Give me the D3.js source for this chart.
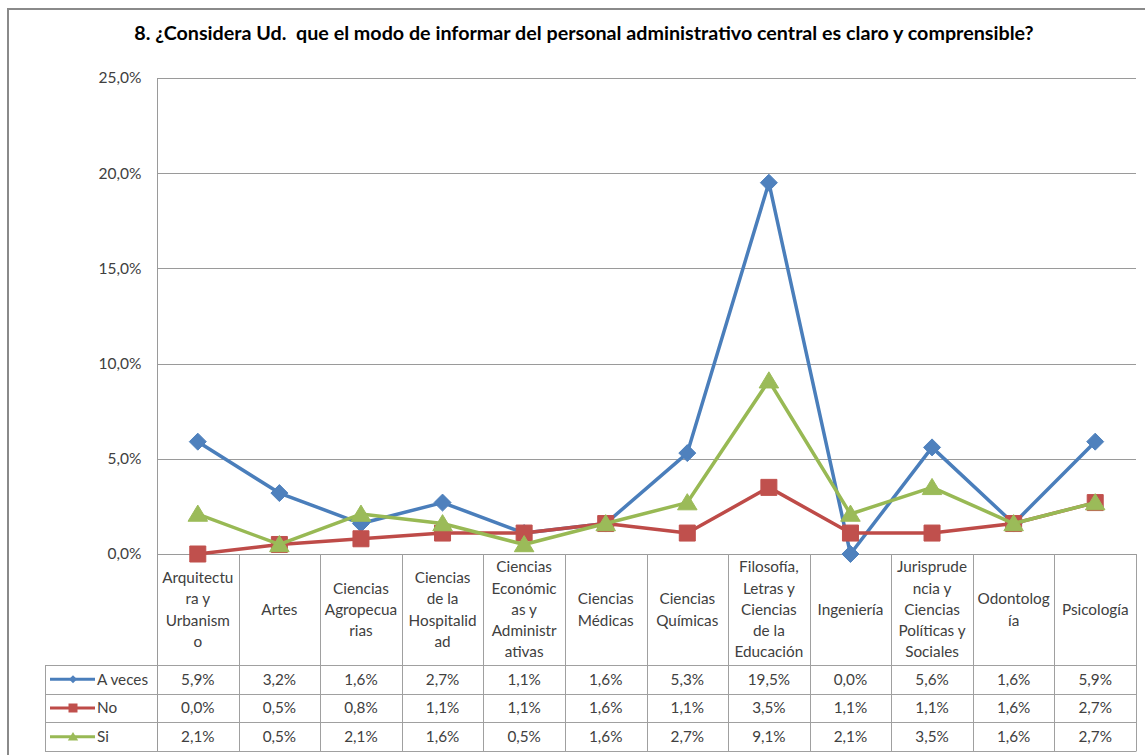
<!DOCTYPE html>
<html>
<head>
<meta charset="utf-8">
<script src="https://cdn.jsdelivr.net/npm/d3@7"></script>
<style>
  html, body { margin: 0; padding: 0; background: #fff; }
  svg { display: block; font-family: Lato, "Open Sans", sans-serif; }
</style>
</head>
<body>
<svg id="chart" width="1145" height="755"></svg>
<script>
// Question title
const title = "8. ¿Considera Ud.  que el modo de informar del personal administrativo central es claro y comprensible?";

// Faculties (categories) and their wrapped header lines
const categories = [
  "Arquitectura y Urbanismo", "Artes", "Ciencias Agropecuarias", "Ciencias de la Hospitalidad",
  "Ciencias Económicas y Administrativas", "Ciencias Médicas", "Ciencias Químicas",
  "Filosofía, Letras y Ciencias de la Educación", "Ingeniería",
  "Jurisprudencia y Ciencias Políticas y Sociales", "Odontología", "Psicología"
];
const categoryLines = [
  ["Arquitectu", "ra y", "Urbanism", "o"],
  ["Artes"],
  ["Ciencias", "Agropecua", "rias"],
  ["Ciencias", "de la", "Hospitalid", "ad"],
  ["Ciencias", "Económic", "as y", "Administr", "ativas"],
  ["Ciencias", "Médicas"],
  ["Ciencias", "Químicas"],
  ["Filosofía,", "Letras y", "Ciencias", "de la", "Educación"],
  ["Ingeniería"],
  ["Jurisprude", "ncia y", "Ciencias", "Políticas y", "Sociales"],
  ["Odontolog", "ía"],
  ["Psicología"]
];

// Series values (percent)
const seriesNames = ["A veces", "No", "Si"];
const aVeces = [5.9, 3.2, 1.6, 2.7, 1.1, 1.6, 5.3, 19.5, 0.0, 5.6, 1.6, 5.9];
const no     = [0.0, 0.5, 0.8, 1.1, 1.1, 1.6, 1.1, 3.5, 1.1, 1.1, 1.6, 2.7];
const si     = [2.1, 0.5, 2.1, 1.6, 0.5, 1.6, 2.7, 9.1, 2.1, 3.5, 1.6, 2.7];

// Y axis ticks (percent)
const yTicks = [0, 5, 10, 15, 20, 25];

const series = [
  { name: seriesNames[0], values: aVeces, line: "#4A7EBB", fill: "#4F81BD", marker: "diamond" },
  { name: seriesNames[1], values: no,     line: "#BE4B48", fill: "#C0504D", marker: "square" },
  { name: seriesNames[2], values: si,     line: "#98B954", fill: "#9BBB59", marker: "triangle" }
];

const locale = d3.formatLocale({ decimal: ",", thousands: ".", grouping: [3], currency: ["", "€"] });
const fmt1 = locale.format(".1f");
const pct = v => fmt1(v) + "%";

const svg = d3.select("#chart");

// Layout
const plotLeft = 157, plotRight = 1136, plotTop = 78, plotBottom = 554;
const tableLeft = 45, headerBottom = 665, tableBottom = 751;
const rowH = (tableBottom - headerBottom) / 3;

const x = d3.scaleBand().domain(categories).range([plotLeft, plotRight]).padding(0);
const y = d3.scaleLinear().domain([0, 25]).range([plotBottom, plotTop]);

// Outer chart border
svg.append("rect")
  .attr("x", 8).attr("y", 9).attr("width", 1160).attr("height", 780)
  .attr("fill", "none").attr("stroke", "#8a8a8a").attr("stroke-width", 2);

// Title, sized to span the header width
const titleText = svg.append("text")
  .attr("x", 584).attr("y", 40)
  .attr("text-anchor", "middle")
  .attr("font-size", 17.5).attr("font-weight", "bold")
  .attr("fill", "#000")
  .style("white-space", "pre")
  .text(title);
const tw = titleText.node().getComputedTextLength();
if (tw > 0) titleText.attr("font-size", 17.5 * 900 / tw);

// Gridlines
svg.append("g").selectAll("line").data(yTicks).join("line")
  .attr("x1", plotLeft).attr("x2", plotRight)
  .attr("y1", d => Math.round(y(d)) + 0.5).attr("y2", d => Math.round(y(d)) + 0.5)
  .attr("stroke", "#9a9a9a").attr("stroke-width", 1);

// Y axis
const yAxis = svg.append("g")
  .attr("transform", `translate(${plotLeft + 0.5},0)`)
  .call(d3.axisLeft(y).tickValues(yTicks).tickFormat(pct).tickSize(0).tickPadding(16));
yAxis.select(".domain").remove();
yAxis.selectAll("text")
  .attr("font-family", "Lato, 'Open Sans', sans-serif")
  .attr("font-size", 15.5).attr("fill", "#404040");

// Axis line down through the data table
svg.append("line")
  .attr("x1", plotLeft + 0.5).attr("x2", plotLeft + 0.5)
  .attr("y1", plotTop).attr("y2", tableBottom)
  .attr("stroke", "#9a9a9a");

// Data table grid
const tbl = svg.append("g").attr("stroke", "#a0a0a0").attr("stroke-width", 1);
categories.forEach(c => {
  const xr = Math.round(x(c) + x.bandwidth()) + 0.5;
  tbl.append("line").attr("x1", xr).attr("x2", xr).attr("y1", plotBottom).attr("y2", tableBottom);
});
[0, 1, 2, 3].forEach(i => {
  const yy = Math.round(headerBottom + i * rowH) + 0.5;
  tbl.append("line").attr("x1", tableLeft).attr("x2", plotRight + 0.5).attr("y1", yy).attr("y2", yy);
});
tbl.append("line").attr("x1", tableLeft + 0.5).attr("x2", tableLeft + 0.5)
  .attr("y1", headerBottom).attr("y2", tableBottom);

// Category headers
const lineH = 21.3;
const headerMid = (plotBottom + headerBottom) / 2;
const hdr = svg.append("g").attr("font-size", 15.3).attr("fill", "#404040").attr("text-anchor", "middle");
categories.forEach((c, i) => {
  const lines = categoryLines[i];
  const cx = x(c) + x.bandwidth() / 2;
  const t = hdr.append("text").attr("x", cx);
  lines.forEach((ln, j) => {
    t.append("tspan").attr("x", cx)
      .attr("y", headerMid + (j - (lines.length - 1) / 2) * lineH)
      .attr("dy", "0.35em").text(ln);
  });
});

// Marker shapes
function markerPath(type, s) {
  if (type === "diamond") return `M0,${-s}L${s},0L0,${s}L${-s},0Z`;
  if (type === "square") return `M${-s},${-s}H${s}V${s}H${-s}Z`;
  return `M0,${-s * 1.05}L${s * 1.15},${s * 0.85}L${-s * 1.15},${s * 0.85}Z`;
}
const markerSize = { diamond: 8.5, square: 8, triangle: 8.5 };
const keySize = { diamond: 4, square: 4.5, triangle: 4.5 };

// Lines and markers
const line = d3.line().x((d, i) => x(categories[i]) + x.bandwidth() / 2).y(d => y(d));
series.forEach(s => {
  const g = svg.append("g");
  g.append("path").datum(s.values)
    .attr("d", line)
    .attr("fill", "none").attr("stroke", s.line).attr("stroke-width", 3.5)
    .attr("stroke-linejoin", "round");
  g.selectAll("path.m").data(s.values).join("path").attr("class", "m")
    .attr("transform", (d, i) => `translate(${x(categories[i]) + x.bandwidth() / 2},${y(d)})`)
    .attr("d", markerPath(s.marker, markerSize[s.marker]))
    .attr("fill", s.fill).attr("stroke", s.fill).attr("stroke-width", 1);
});

// Table rows: legend keys, names and values
series.forEach((s, r) => {
  const cy = headerBottom + r * rowH + rowH / 2;
  const g = svg.append("g");
  g.append("line").attr("x1", 50).attr("x2", 95).attr("y1", cy).attr("y2", cy)
    .attr("stroke", s.line).attr("stroke-width", 3);
  g.append("path").attr("transform", `translate(73,${cy})`)
    .attr("d", markerPath(s.marker, keySize[s.marker])).attr("fill", s.fill);
  g.append("text").attr("x", 97).attr("y", cy).attr("dy", "0.35em")
    .attr("font-size", 15.3).attr("fill", "#404040").text(s.name);
  g.selectAll("text.v").data(s.values).join("text").attr("class", "v")
    .attr("x", (d, i) => x(categories[i]) + x.bandwidth() / 2)
    .attr("y", cy).attr("dy", "0.35em")
    .attr("text-anchor", "middle").attr("font-size", 15.3).attr("fill", "#404040")
    .text(d => pct(d));
});
</script>
</body>
</html>
